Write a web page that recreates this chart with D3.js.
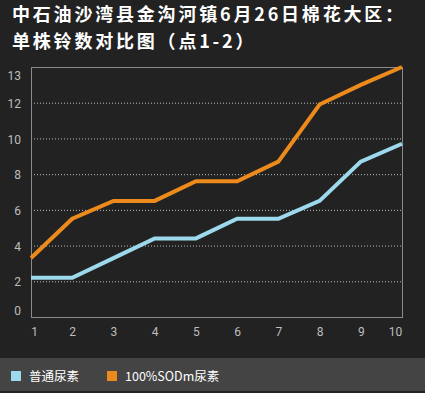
<!DOCTYPE html>
<html>
<head>
<meta charset="utf-8">
<script src="https://cdn.jsdelivr.net/npm/d3@7"></script>
<style>
  html, body { margin: 0; padding: 0; background: #222222; }
  svg { display: block; }
</style>
</head>
<body>
<div id="chart"></div>
<script>
const titleLines = ['中石油沙湾县金沟河镇6月26日棉花大区：', '单株铃数对比图（点1-2）'];
const categories = ['1', '2', '3', '4', '5', '6', '7', '8', '9', '10'];
const seriesNames = ['普通尿素', '100%SODm尿素'];
const normalUrea = [2.2, 2.2, 3.3, 4.4, 4.4, 5.5, 5.5, 6.5, 8.7, 9.7];
const sodmUrea = [3.3, 5.5, 6.5, 6.5, 7.6, 7.6, 8.7, 11.9, 13, 14];
const gridTicks = [2, 4, 6, 8, 10, 12];
const yTickLabels = ['0', '2', '4', '6', '8', '10', '12', '13'];
const yMax = 14;

const width = 425, height = 393;
const margin = {left: 31, top: 67, right: 23, bottom: 76};
const colors = ['#9dd9ec', '#ec8a1c'];

const svg = d3.select('#chart').append('svg')
    .attr('width', width).attr('height', height)
    .style('font-family', '"Noto Sans CJK SC", "Noto Sans", sans-serif');

svg.append('rect').attr('width', width).attr('height', height).attr('fill', '#222222');

// title
svg.append('g').selectAll('text').data(titleLines).join('text')
    .attr('x', 12)
    .attr('y', (d, i) => 21 + i * 27)
    .attr('fill', '#ffffff')
    .attr('font-size', 18)
    .attr('font-weight', 'bold')
    .attr('letter-spacing', 2.8)
    .text(d => d);

const w = width - margin.left - margin.right,
      h = height - margin.top - margin.bottom;

const x = d3.scalePoint().domain(categories).range([0, w]);
const y = d3.scaleLinear().domain([0, yMax]).range([h, 0]);

const g = svg.append('g').attr('transform', 'translate(' + margin.left + ',' + margin.top + ')');

// dotted grid
g.append('g').selectAll('line').data(gridTicks).join('line')
    .attr('x1', 0).attr('x2', w)
    .attr('y1', d => y(d) + 0.5).attr('y2', d => y(d) + 0.5)
    .attr('stroke', '#bbbbbb')
    .attr('stroke-dasharray', '1,2');

// frame
g.append('rect')
    .attr('x', 0.5).attr('y', 0.5).attr('width', w).attr('height', h)
    .attr('fill', 'none').attr('stroke', '#8a8a8a');

// y labels: top and bottom ones are pulled inside the frame
const yLabelPos = v => {
  if (v === 0) return y(0) - 6;
  if (v === 13) return y(13) - 9;
  return y(v) + 1;
};
g.append('g').selectAll('text').data(yTickLabels).join('text')
    .attr('x', -10)
    .attr('y', d => yLabelPos(+d))
    .attr('dy', '0.35em')
    .attr('text-anchor', 'end')
    .attr('fill', '#bdbdbd')
    .attr('font-size', 12)
    .style('font-family', 'Roboto, "Noto Sans", sans-serif')
    .text(d => d);

// x labels
const xAxis = d3.axisBottom(x).tickSize(0).tickPadding(10);
const xg = g.append('g').attr('transform', 'translate(0,' + h + ')').call(xAxis);
xg.select('.domain').remove();
xg.selectAll('text')
    .attr('fill', '#bdbdbd')
    .attr('font-size', 12)
    .style('font-family', 'Roboto, "Noto Sans", sans-serif')
    .attr('dx', d => d === '1' ? 3 : (d === '10' ? -7 : 0));

// lines
const line = d3.line()
    .x((d, i) => x(categories[i]))
    .y(d => y(d));

[normalUrea, sodmUrea].forEach((data, k) => {
  g.append('path')
      .attr('d', line(data))
      .attr('fill', 'none')
      .attr('stroke', colors[k])
      .attr('stroke-width', 4)
      .attr('stroke-linejoin', 'miter');
});

// legend band
svg.append('rect')
    .attr('x', 0).attr('y', 358).attr('width', width).attr('height', 33)
    .attr('fill', '#444444');

const legendX = [11, 107];
const lg = svg.append('g').selectAll('g').data(seriesNames).join('g')
    .attr('transform', (d, i) => 'translate(' + legendX[i] + ',371)');
lg.append('rect').attr('width', 10).attr('height', 10).attr('fill', (d, i) => colors[i]);
lg.append('text')
    .attr('x', 18).attr('y', 5).attr('dy', '0.38em')
    .attr('fill', '#ffffff').attr('font-size', 12.5)
    .text(d => d);
</script>
</body>
</html>
